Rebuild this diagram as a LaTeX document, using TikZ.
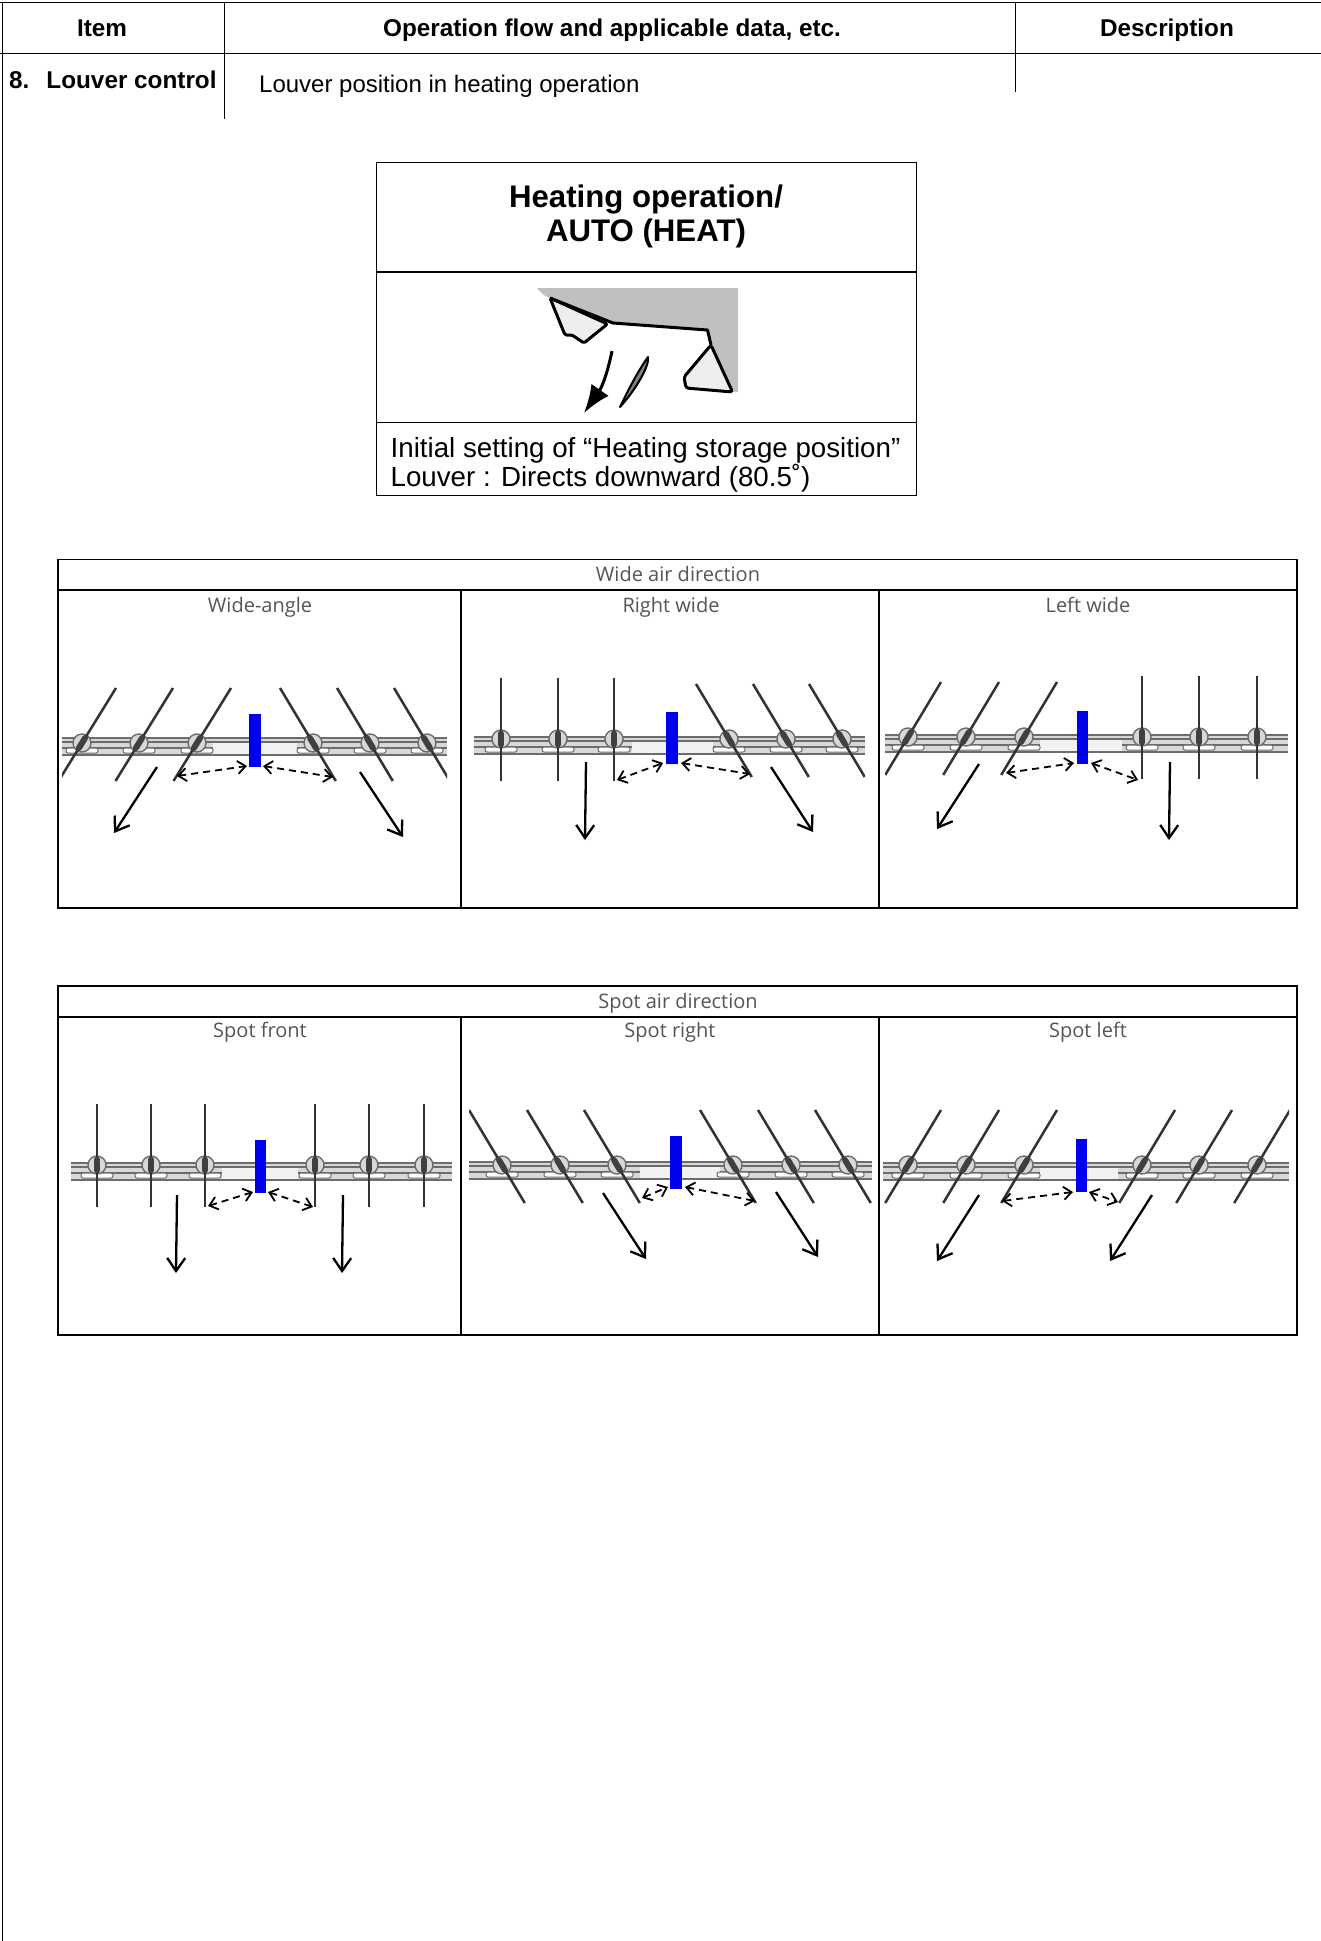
\documentclass[tikz,border=0pt]{standalone}
\usepackage{fontspec}
\setmainfont{Liberation Sans}
\newfontfamily\thinfont{Open Sans}
\usetikzlibrary{arrows.meta}

\definecolor{railgray}{HTML}{6C6C6C}
\definecolor{bandgray}{HTML}{D8D8D8}
\definecolor{gapgray}{HTML}{F2F2F2}
\definecolor{casegray}{HTML}{C0C0C0}
\definecolor{podgray}{HTML}{EEEEEE}
\definecolor{barblue}{HTML}{0000F0}
\definecolor{thingray}{HTML}{555555}

\tikzset{
  rulethin/.style={draw=black,line width=1pt},
  rulebox/.style={draw=black,line width=1.5pt},
  headtext/.style={font=\fontsize{24.3}{26}\selectfont\bfseries,inner sep=0pt,anchor=base},
  bodytext/.style={font=\fontsize{24}{26}\selectfont,inner sep=0pt,anchor=base west},
  boxtext/.style={font=\fontsize{27.7}{28.5}\selectfont,inner sep=0pt,align=left},
  boxtitle/.style={font=\fontsize{31.2}{33.5}\selectfont\bfseries,inner sep=0pt,align=center},
  paneltext/.style={font=\thinfont\fontsize{20}{24}\selectfont,text=thingray,inner sep=0pt,anchor=base},
  railline/.style={draw=railgray,line width=1.6pt},
  blade/.style={draw=black!80,line width=2.5pt},
  bluebar/.style={fill=barblue,draw=none},
  airarrow/.style={-{Straight Barb[length=13pt,width=18pt]},draw=black,line width=2.3pt},
  swingarrow/.style={{Straight Barb[length=8pt,width=13pt]}-{Straight Barb[length=8pt,width=13pt]},draw=black,line width=1.8pt,dash pattern=on 7pt off 5pt},
}

% rail: #1 left, #2 right, #3 top edge, #4 pivot y, #5 pivots as x/lean, #6 gap left, #7 gap right
\newcommand{\louverrail}[7]{
  \begin{scope}
    \clip (#1,#3-100) rectangle (#2,#3+100);
    \fill[bandgray] (#1,#3) rectangle (#2,#3+17);
    \fill[gapgray] (#6,#3+5) rectangle (#7,#3+16);
    \draw[railline,line width=2.8pt] (#1,#3) -- (#2,#3);
    \draw[railline] (#1,#3+4) -- (#2,#3+4);
    \draw[railline] (#1,#3+10) -- (#6,#3+10);
    \draw[railline] (#7,#3+10) -- (#2,#3+10);
    \draw[railline] (#1,#3+17) -- (#2,#3+17);
    \foreach \px/\lean in {#5} {
      \pgfmathsetmacro\rise{\lean==0 ? 61 : 55}
      \filldraw[fill=white,draw=railgray,line width=1pt,rounded corners=2pt] (\px-16,#3+10) rectangle (\px+16,#3+15);
      \filldraw[fill=bandgray,draw=railgray,line width=1.4pt] (\px,#4) circle (9);
      \draw[blade] (\px+\lean,#4-\rise) -- (\px-0.69*\lean,#4+0.69*\rise);
      \draw[black!75,line width=6pt,line cap=round] (\px+0.09*\lean,#4-0.09*\rise) -- (\px-0.09*\lean,#4+0.09*\rise);
    }
  \end{scope}
}
\newcommand{\panelframe}[5]{
  \draw[rulebox] (58,#1) rectangle (1297,#3);
  \draw[rulebox] (58,#2) -- (1297,#2);
  \draw[rulebox] (461,#2) -- (461,#3);
  \draw[rulebox] (879,#2) -- (879,#3);
  \node[paneltext] (#4) at (678,{(#1+#2)/2+7}) {#5};
}

\begin{document}
\begin{tikzpicture}[x=1pt,y=-1pt]
  \useasboundingbox (0,0) rectangle (1321,1941);
  \fill[white] (0,0) rectangle (1321,1941);

  % Table head
  \draw[rulethin] (0,2) -- (1321,2);
  \draw[rulethin,line width=1.4pt] (0,53.5) -- (1321,53.5);
  \draw[rulethin] (2,2) -- (2,1941);
  \draw[rulethin] (224,2) -- (224,119);
  \draw[rulethin] (1015.5,2) -- (1015.5,92);
  \node[headtext] (item) at (102,36) {Item};
  \node[headtext] (flow) at (612,36) {Operation flow and applicable data, etc.};
  \node[headtext] (description) at (1167,36) {Description};
  \node[headtext,anchor=base west] (louvercontrol) at (9,88) {8.\hspace{17pt}Louver control};
  \node[bodytext] (position) at (259,92) {Louver position in heating operation};

  % Heating box
  \draw[rulethin] (376,162) rectangle (916,495);
  \draw[rulethin,line width=2pt] (376,271.5) -- (916,271.5);
  \draw[rulethin,line width=1.4pt] (376,422.5) -- (916,422.5);
  \node[boxtitle] (heating) at (646,216.5) {Heating operation/\\AUTO (HEAT)};
  \node[boxtext] (setting) at (645.5,465) {Initial setting of “Heating storage position”\\Louver : Directs downward (80.5˚)};

  % Indoor unit section
  \fill[casegray] (537,288) -- (738,288) -- (738,392) -- (732.5,392) -- (711,345) -- (707.5,330) -- (613,323) -- (550,298) .. controls (543,295) .. (537,288) -- cycle;
  \filldraw[fill=podgray,draw=black,line width=3pt,line join=round,rounded corners=1.5pt] (550,298) -- (565,335) -- (572,335) -- (584,343) -- (607.5,324) -- cycle;
  \filldraw[fill=podgray,draw=black,line width=3pt,line join=round,rounded corners=2.5pt] (711,345) -- (732.5,392) -- (686,388) -- (684,377) -- cycle;
  \draw[black,line width=3pt,line join=round] (550,298) -- (613,323) -- (707.5,330) -- (711,345);
  \draw[-{Latex[length=28pt,width=21pt]},line width=3pt] (612,351) .. controls (606,380) and (600,390) .. (584,413);
  \filldraw[fill=gray,draw=black,line width=2pt,line join=round] (620,407) .. controls (630,386) and (640,368) .. (648,357) .. controls (650,366) and (634,392) .. (620,407) -- cycle;

  % Wide air direction
  \panelframe{559.5}{590}{908}{wideair}{Wide air direction}
  \node[paneltext] (wideangle) at (260,612) {Wide-angle};
  \node[paneltext] (rightwide) at (671,612) {Right wide};
  \node[paneltext] (leftwide) at (1088,612) {Left wide};

  % Wide-angle
  \louverrail{62}{447}{738}{743}{82/34,139/34,197/34,313/-33,370/-33,427/-33}{213}{297}
  \fill[bluebar] (249,714) rectangle (261,767);
  \draw[airarrow] (157,767) -- (114,833);
  \draw[airarrow] (360,772) -- (403,837);
  \draw[swingarrow] (177,776) -- (247,766);
  \draw[swingarrow] (263,766) -- (333,777);

  % Right wide
  \louverrail{474}{865}{737}{739}{501/0,558/0,614/0,729/-33,786/-33,842/-33}{632}{713}
  \fill[bluebar] (666,712) rectangle (678,764);
  \draw[airarrow] (586,762) -- (585,840);
  \draw[airarrow] (771,767) -- (813,832);
  \draw[swingarrow] (617,780) -- (663,763);
  \draw[swingarrow] (681,763) -- (750,774);

  % Left wide
  \louverrail{885}{1288}{735}{737}{908/33,966/33,1024/33,1142/0,1199/0,1257/0}{1040}{1122}
  \fill[bluebar] (1077,711) rectangle (1088,764);
  \draw[airarrow] (979,764) -- (937,829);
  \draw[airarrow] (1170,762) -- (1169,840);
  \draw[swingarrow] (1006,773) -- (1074,763);
  \draw[swingarrow] (1091,763) -- (1138,780);

  % Spot air direction
  \panelframe{986}{1017}{1335}{spotair}{Spot air direction}
  \node[paneltext] (spotfront) at (260,1037) {Spot front};
  \node[paneltext] (spotright) at (670,1037) {Spot right};
  \node[paneltext] (spotleft) at (1088,1037) {Spot left};

  % Spot front
  \louverrail{71}{452}{1163}{1165}{97/0,151/0,205/0,315/0,369/0,424/0}{222}{298}
  \fill[bluebar] (255,1140) rectangle (266,1193);
  \draw[airarrow] (177,1195) -- (176,1273);
  \draw[airarrow] (343,1195) -- (342,1273);
  \draw[swingarrow] (208,1206) -- (253,1192);
  \draw[swingarrow] (268,1192) -- (313,1207);

  % Spot right
  \louverrail{469}{872}{1162}{1165}{502/-33,560/-33,617/-33,733/-33,791/-33,848/-33}{640}{720}
  \fill[bluebar] (670,1136) rectangle (682,1189);
  \draw[airarrow] (603,1193) -- (646,1259);
  \draw[airarrow] (776,1192) -- (818,1257);
  \draw[swingarrow] (642,1198) -- (668,1187);
  \draw[swingarrow] (685,1187) -- (755,1201);

  % Spot left
  \louverrail{883}{1289}{1163}{1165}{908/33,966/33,1024/33,1142/33,1199/33,1257/33}{1040}{1118}
  \fill[bluebar] (1076,1139) rectangle (1087,1192);
  \draw[airarrow] (979,1195) -- (937,1261);
  \draw[airarrow] (1152,1195) -- (1110,1261);
  \draw[swingarrow] (1002,1201) -- (1073,1192);
  \draw[swingarrow] (1089,1192) -- (1118,1202);
\end{tikzpicture}
\end{document}
